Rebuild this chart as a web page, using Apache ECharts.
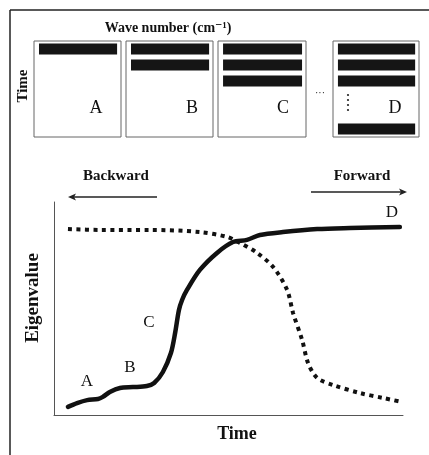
<!DOCTYPE html>
<html>
<head>
<meta charset="utf-8">
<script src="https://cdn.jsdelivr.net/npm/echarts@6/dist/echarts.min.js"></script>
<style>html,body{margin:0;padding:0;background:#fff}#c{width:429px;height:455px}</style>
</head>
<body>
<div id="c"></div>
<script>
// ---- data ----
const timeSolid = [4.0, 6.6, 9.5, 12.6, 14.0, 16.0, 18.9, 22.6, 26.6, 28.7, 31.2, 33.5, 34.7, 35.8, 36.7, 38.1, 41.8, 46.7, 51.3, 55.3, 59.0, 65.6, 75.4, 84.8, 99.1];
const eigSolid  = [3.8, 5.6, 7.0, 7.5, 8.5, 10.8, 12.7, 13.1, 13.6, 15.0, 20.2, 29.1, 38.5, 49.3, 54.0, 58.7, 68.1, 76.1, 81.2, 82.2, 84.5, 85.9, 87.3, 87.8, 88.3];
const timeDotted = [4.0, 13.2, 27.5, 41.8, 49.6, 53.3, 58.2, 62.8, 66.8, 68.5, 71.1, 72.8, 75.4, 79.9, 87.7, 94.3, 99.7];
const eigDotted  = [87.3, 86.9, 86.9, 85.9, 83.6, 80.8, 76.1, 69.5, 58.7, 47.9, 35.2, 24.4, 17.4, 14.1, 10.3, 8.0, 6.1];
const panelLabels = ['A', 'B', 'C', 'D'];
const panelRowCats = ['r1', 'r2', 'r3', 'r4', 'r5', 'r6'];
const panelFilledRows = [[0], [0, 1], [0, 1, 2], [0, 1, 2, 5]];
const curveLabels = ['A', 'B', 'C', 'D'];
const xAxisTitle = 'Time';
const yAxisTitle = 'Eigenvalue';

// ---- layout ----
const panelBoxes = [
  {left: 34, top: 41, width: 87, height: 96},
  {left: 126, top: 41, width: 87, height: 96},
  {left: 218, top: 41, width: 88, height: 96},
  {left: 333, top: 41, width: 86, height: 96}
];
const panelLabelPos = [[96, 108], [192, 108], [283, 108], [395, 108]];
const curveLabelPos = [[87, 382], [130, 368], [149, 323], [392, 213]];
const serif = '"Liberation Serif", "DejaVu Serif", serif';

const grids = [{left: 54, top: 202, right: 26, bottom: 40, show: false}];
const xAxes = [{gridIndex: 0, type: 'value', min: 0, max: 100,
  axisLine: {show: true, onZero: false, lineStyle: {color: '#555', width: 1}},
  axisTick: {show: false}, axisLabel: {show: false}, splitLine: {show: false}}];
const yAxes = [{gridIndex: 0, type: 'value', min: 0, max: 100,
  axisLine: {show: true, onZero: false, lineStyle: {color: '#555', width: 1}},
  axisTick: {show: false}, axisLabel: {show: false}, splitLine: {show: false}}];

const series = [
  {type: 'line', xAxisIndex: 0, yAxisIndex: 0, data: timeDotted.map((t, i) => [t, eigDotted[i]]),
   showSymbol: false, smooth: 0.3, lineStyle: {color: '#111', width: 4, type: [4, 4.5], cap: 'butt'}, z: 3},
  {type: 'line', xAxisIndex: 0, yAxisIndex: 0, data: timeSolid.map((t, i) => [t, eigSolid[i]]),
   showSymbol: false, smooth: 0.3, lineStyle: {color: '#111', width: 4.5, cap: 'round', join: 'round'}, z: 4}
];

panelBoxes.forEach((b, i) => {
  grids.push(Object.assign({show: true, borderColor: '#666', borderWidth: 1, backgroundColor: 'transparent'}, b));
  xAxes.push({gridIndex: i + 1, type: 'value', min: -0.064, max: 1.05, show: false});
  yAxes.push({gridIndex: i + 1, type: 'category', data: panelRowCats, inverse: true, show: false});
  series.push({type: 'bar', xAxisIndex: i + 1, yAxisIndex: i + 1, barWidth: 11,
    itemStyle: {color: '#151515'},
    data: panelRowCats.map((c, k) => panelFilledRows[i].includes(k) ? 1 : '-')});
});

const graphic = [
  {type: 'line', shape: {x1: 10, y1: 10, x2: 10, y2: 455}, style: {stroke: '#222', lineWidth: 1.5}},
  {type: 'line', shape: {x1: 10, y1: 10, x2: 429, y2: 10}, style: {stroke: '#222', lineWidth: 1.5}},
  {type: 'text', x: 168, y: 28, style: {text: 'Wave number (cm⁻¹)', font: 'bold 14px ' + serif, fill: '#111', textAlign: 'center', textVerticalAlign: 'middle'}},
  {type: 'text', x: 23, y: 86, rotation: Math.PI / 2, style: {text: 'Time', font: 'bold 15px ' + serif, fill: '#111', textAlign: 'center', textVerticalAlign: 'middle'}},
  {type: 'text', x: 320, y: 93, style: {text: '···', font: '10px ' + serif, fill: '#111', textAlign: 'center', textVerticalAlign: 'middle'}},
  {type: 'text', x: 116, y: 176, style: {text: 'Backward', font: 'bold 15px ' + serif, fill: '#111', textAlign: 'center', textVerticalAlign: 'middle'}},
  {type: 'text', x: 362, y: 176, style: {text: 'Forward', font: 'bold 15px ' + serif, fill: '#111', textAlign: 'center', textVerticalAlign: 'middle'}},
  {type: 'line', shape: {x1: 157, y1: 197, x2: 72, y2: 197}, style: {stroke: '#222', lineWidth: 1.3}},
  {type: 'polygon', shape: {points: [[68, 197], [76, 193.5], [74, 197], [76, 200.5]]}, style: {fill: '#222'}},
  {type: 'line', shape: {x1: 311, y1: 192, x2: 403, y2: 192}, style: {stroke: '#222', lineWidth: 1.3}},
  {type: 'polygon', shape: {points: [[407, 192], [399, 188.5], [401, 192], [399, 195.5]]}, style: {fill: '#222'}},
  {type: 'text', x: 237, y: 434, style: {text: xAxisTitle, font: 'bold 18px ' + serif, fill: '#111', textAlign: 'center', textVerticalAlign: 'middle'}},
  {type: 'text', x: 33, y: 298, rotation: Math.PI / 2, style: {text: yAxisTitle, font: 'bold 19px ' + serif, fill: '#111', textAlign: 'center', textVerticalAlign: 'middle'}}
];
[95, 100, 105, 110].forEach(y => graphic.push({type: 'circle', shape: {cx: 348, cy: y, r: 1.1}, style: {fill: '#222'}}));
panelLabels.forEach((t, i) => graphic.push({type: 'text', x: panelLabelPos[i][0], y: panelLabelPos[i][1],
  style: {text: t, font: '18px ' + serif, fill: '#111', textAlign: 'center', textVerticalAlign: 'middle'}}));
curveLabels.forEach((t, i) => graphic.push({type: 'text', x: curveLabelPos[i][0], y: curveLabelPos[i][1],
  style: {text: t, font: '17px ' + serif, fill: '#111', textAlign: 'center', textVerticalAlign: 'middle'}}));

const chart = echarts.init(document.getElementById('c'));
chart.setOption({
  animation: false,
  backgroundColor: '#fff',
  grid: grids, xAxis: xAxes, yAxis: yAxes, series: series, graphic: graphic
});
</script>
</body>
</html>
